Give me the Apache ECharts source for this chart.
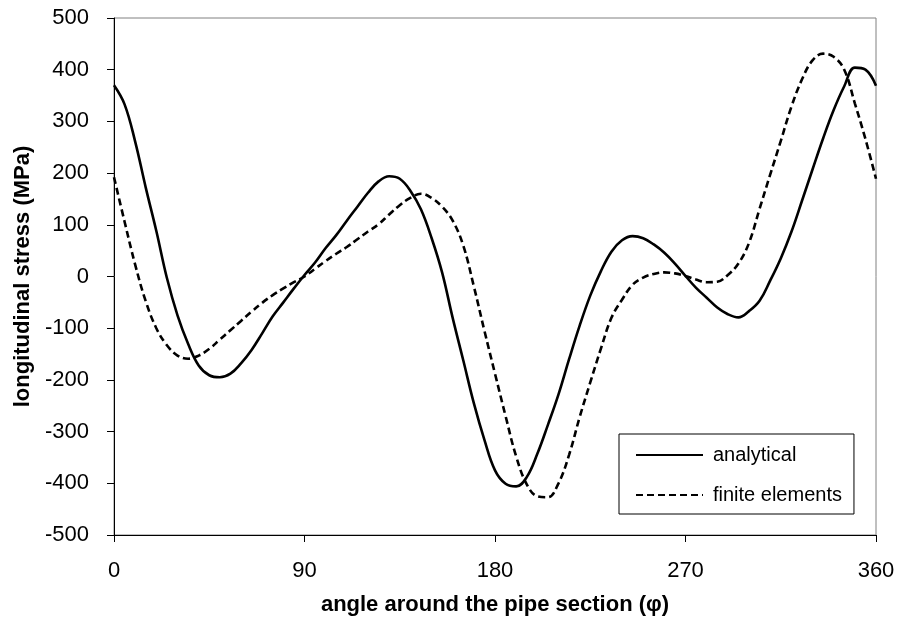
<!DOCTYPE html>
<html>
<head>
<meta charset="utf-8">
<script src="https://cdn.jsdelivr.net/npm/echarts@6/dist/echarts.min.js"></script>
<style>html,body{margin:0;padding:0;background:#fff}#c{width:898px;height:626px}</style>
</head>
<body>
<div id="c"></div>
<script>
// angles (degrees)
const angles = [0,5,10,15,20,25,30,35,40,45,50,55,60,65,70,75,80,85,90,95,100,105,110,115,120,125,130,135,140,145,150,155,160,165,170,175,180,185,190,195,200,205,210,215,220,225,230,235,240,245,250,255,260,265,270,275,280,285,290,295,300,305,310,315,320,325,330,335,340,345,350,355,360];
// analytical longitudinal stress (MPa)
const analytical = [370,333,261,172,88,-3,-75,-130,-172,-191,-195,-188,-168,-142,-110,-77,-50,-23,3,27,55,80,108,135,162,184,194,189,166,130,75,8,-80,-162,-245,-316,-375,-401,-406,-388,-343,-287,-228,-160,-95,-37,10,48,70,78,74,62,46,25,1,-22,-41,-60,-73,-79,-67,-47,-8,35,86,146,207,267,322,368,404,400,369];
// finite elements longitudinal stress (MPa)
const finiteElements = [192,106,23,-48,-100,-133,-153,-159,-153,-140,-122,-104,-86,-68,-51,-36,-23,-11,0,15,30,44,57,72,87,101,120,138,152,160,152,135,108,60,-19,-105,-188,-270,-348,-402,-425,-427,-400,-345,-272,-205,-140,-80,-45,-16,-2,5,8,6,1,-6,-11,-10,3,25,65,131,197,262,328,381,418,431,425,400,335,266,189];
const xTicks = [0,90,180,270,360];
const yTicks = [-500,-400,-300,-200,-100,0,100,200,300,400,500];
const seriesNames = ['analytical','finite elements'];

const pair = (arr) => angles.map((a,i)=>[a,arr[i]]);
const font = 'Liberation Sans, Arial, sans-serif';
const chart = echarts.init(document.getElementById('c'), null, {renderer:'canvas'});
chart.setOption({
  animation:false,
  backgroundColor:'#fff',
  grid:{left:114,right:22,top:18,bottom:91,show:true,borderColor:'#808080',borderWidth:1,backgroundColor:'transparent'},
  legend:{
    orient:'vertical',left:619,top:434,
    data:seriesNames,
    itemWidth:67,itemHeight:20,itemGap:20,
    padding:[11,12,9,16],
    borderColor:'#000',borderWidth:1,backgroundColor:'#fff',
    itemStyle:{opacity:0},
    textStyle:{fontFamily:font,fontSize:20,color:'#000',padding:[0,0,0,5]}
  },
  xAxis:{
    type:'value',min:xTicks[0],max:xTicks[xTicks.length-1],interval:90,
    name:'angle around the pipe section (φ)',nameLocation:'middle',nameGap:59,
    nameTextStyle:{fontFamily:font,fontSize:22,fontWeight:'bold',color:'#000'},
    axisLine:{show:true,onZero:false,lineStyle:{color:'#000',width:1}},
    axisTick:{show:true,length:7,inside:false,lineStyle:{color:'#000'}},
    axisLabel:{fontFamily:font,fontSize:22,color:'#000',margin:25},
    splitLine:{show:false}
  },
  yAxis:{
    type:'value',min:yTicks[0],max:yTicks[yTicks.length-1],interval:100,
    name:'longitudinal stress (MPa)',nameLocation:'middle',nameGap:79,nameRotate:90,
    nameTextStyle:{fontFamily:font,fontSize:22,fontWeight:'bold',color:'#000'},
    axisLine:{show:true,onZero:false,lineStyle:{color:'#000',width:1}},
    axisTick:{show:true,length:7,inside:false,lineStyle:{color:'#000'}},
    axisLabel:{fontFamily:font,fontSize:22,color:'#000',margin:25},
    splitLine:{show:false}
  },
  series:[
    {name:seriesNames[0],type:'line',data:pair(analytical),smooth:0.4,symbol:'none',
     lineStyle:{color:'#000',width:2.6,type:'solid'},itemStyle:{color:'#000'}},
    {name:seriesNames[1],type:'line',data:pair(finiteElements),smooth:0.4,symbol:'none',
     lineStyle:{color:'#000',width:2.6,type:[7,4]},itemStyle:{color:'#000'}}
  ]
});
</script>
</body>
</html>
